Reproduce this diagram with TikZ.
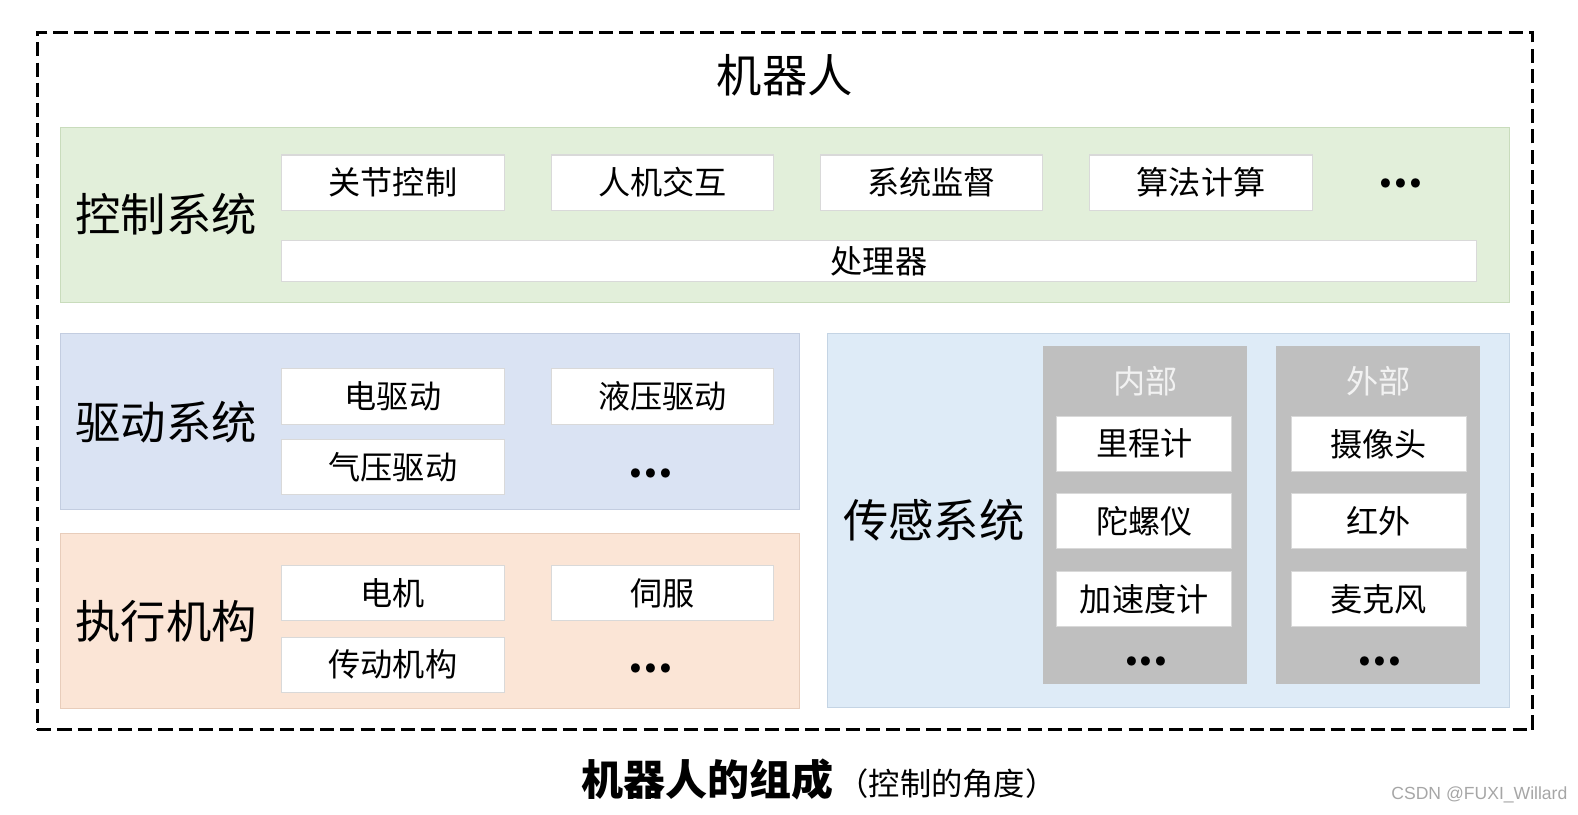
\documentclass[tikz,border=0pt]{standalone}
\usepackage{fontspec}
\setmainfont{Noto Sans CJK SC}
\newfontfamily\wmfont{Liberation Sans}
\usetikzlibrary{fit,positioning}
\definecolor{zold}{HTML}{E2EFDA}
\definecolor{zoldk}{HTML}{C9DCBC}
\definecolor{lila}{HTML}{DAE3F3}
\definecolor{lilak}{HTML}{C3CDE0}
\definecolor{barack}{HTML}{FBE5D6}
\definecolor{barackk}{HTML}{E8CDBB}
\definecolor{kek}{HTML}{DEEBF7}
\definecolor{kekk}{HTML}{C4D4E4}
\definecolor{szurke}{HTML}{BFBFBF}
\newlength\pxh \setlength\pxh{0.020128cm}
\newcommand\nagybetu{\fontsize{25.8}{30}\selectfont}
\newcommand\kisbetu{\fontsize{18.3}{22}\selectfont}
\tikzset{
  keret/.style={draw,line width=1.6pt,dash pattern=on 8pt off 3.5pt,inner sep=0pt},
  blokk/.style={draw,line width=0.6pt,inner sep=0pt},
  tag/.style={draw=black!15,fill=white,line width=0.6pt,inner sep=0pt,font=\kisbetu,
    minimum width=221*\pxh,minimum height=55*\pxh},
  kistag/.style={tag,minimum width=174*\pxh},
  oszlop/.style={fill=szurke,inner sep=0pt},
  felirat/.style={font=\nagybetu},
  fej/.style={font=\kisbetu,text=white!95!black},
  pont/.style={font=\bfseries\fontsize{24}{24}\selectfont,anchor=base},
}
\begin{document}
\begin{tikzpicture}[x=\pxh,y=-\pxh]
  \useasboundingbox (0,0) rectangle (1568,809);
  \node[keret,fit={(37,32) (1523,725)}] (robot) {};
  \node[font=\nagybetu] (cim) at (780,75) {机器人};
  % control
  \node[blokk,fill=zold,draw=zoldk,fit={(60,127) (1500,301)}] (ctrl) {};
  \node[felirat] (ctrlt) at (165,213) {控制系统};
  \node[tag] (jc) at (390.5,181.5) {关节控制};
  \node[tag] (hmi) at (658.5,181.5) {人机交互};
  \node[tag] (mon) at (925.5,181.5) {系统监督};
  \node[tag] (alg) at (1193.5,181.5) {算法计算};
  \node[pont] (ctrld) at (1392,186) {...};
  \node[tag,minimum width=1187*\pxh,minimum height=41*\pxh] (cpu) at (873.5,259.5) {处理器};
  % drive
  \node[blokk,fill=lila,draw=lilak,fit={(60,331) (794,506)}] (drv) {};
  \node[felirat] (drvt) at (165,419) {驱动系统};
  \node[tag] (el) at (390.5,394) {电驱动};
  \node[tag] (hyd) at (658.5,394) {液压驱动};
  \node[tag] (pn) at (390.5,464) {气压驱动};
  \node[pont] (drvd) at (647,474) {...};
  % actuators
  \node[blokk,fill=barack,draw=barackk,fit={(60,530) (794,704)}] (act) {};
  \node[felirat] (actt) at (165,617) {执行机构};
  \node[tag] (mot) at (390.5,589.5) {电机};
  \node[tag] (srv) at (658.5,589.5) {伺服};
  \node[tag] (tr) at (390.5,660.5) {传动机构};
  \node[pont] (actd) at (647,668) {...};
  % sensing
  \node[blokk,fill=kek,draw=kekk,fit={(822,331) (1500,703)}] (sen) {};
  \node[felirat] (sent) at (928,517) {传感系统};
  \node[oszlop,fit={(1036,344) (1239,680)}] (bel) {};
  \node[fej] (belt) at (1138,379) {内部};
  \node[kistag] (odo) at (1137,441) {里程计};
  \node[kistag] (gyr) at (1137,517.5) {陀螺仪};
  \node[kistag] (acc) at (1137,595) {加速度计};
  \node[pont] (beld) at (1139,661) {...};
  \node[oszlop,fit={(1268,344) (1471,680)}] (kul) {};
  \node[fej] (kult) at (1370,379) {外部};
  \node[kistag] (cam) at (1370,441) {摄像头};
  \node[kistag] (ir) at (1370,517.5) {红外};
  \node[kistag] (mic) at (1370,595) {麦克风};
  \node[pont] (kuld) at (1371,661) {...};
  % caption
  \node (cap) at (814,775) {\bfseries\fontsize{23.9}{28}\selectfont 机器人的组成\hspace{2pt}\mdseries\fontsize{17.8}{20}\selectfont（控制的角度）};
  \node[font=\wmfont\fontsize{10}{12}\selectfont,text=black!35] (wm) at (1470,790) {CSDN @FUXI\_Willard};
\end{tikzpicture}
\end{document}
